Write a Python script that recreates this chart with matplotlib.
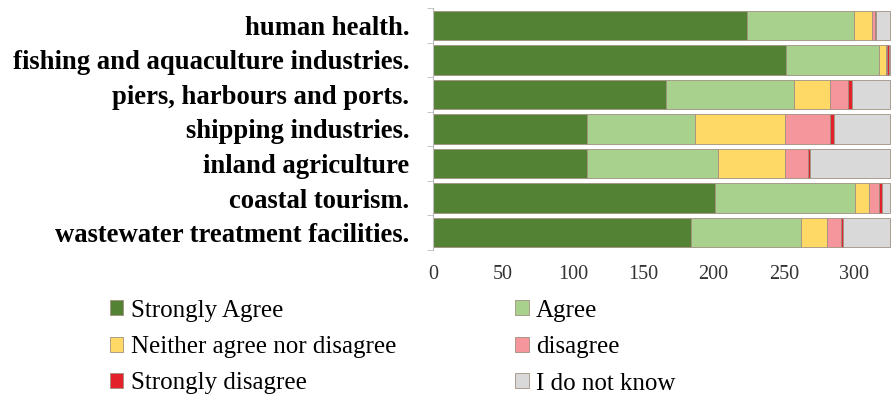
import numpy as np
import matplotlib.pyplot as plt

categories = ['human health.', 'fishing and aquaculture industries.', 'piers, harbours and ports.',
              'shipping industries.', 'inland agriculture', 'coastal tourism.',
              'wastewater treatment facilities.']
strongly_agree = [224, 252, 166, 110, 110, 201, 184]
agree = [76, 66, 91, 77, 93, 100, 78]
neither = [13, 5, 26, 64, 48, 10, 19]
disagree = [2, 1, 13, 32, 16, 7, 10]
strongly_disagree = [1, 1, 3, 3, 2, 2, 1]
dont_know = [10, 1, 27, 40, 57, 6, 34]

series = [('Strongly Agree', strongly_agree, '#548235'),
          ('Agree', agree, '#a9d18e'),
          ('Neither agree nor disagree', neither, '#ffd966'),
          ('disagree', disagree, '#f4969b'),
          ('Strongly disagree', strongly_disagree, '#e3212b'),
          ('I do not know', dont_know, '#d9d9d9')]

plt.rcParams['font.family'] = 'Liberation Serif'

fig = plt.figure(figsize=(8.92, 3.97), dpi=100)
ax = fig.add_axes([433 / 892, 1 - 250 / 397, (891 - 433) / 892, 242 / 397])

y = np.arange(len(categories))
left = np.zeros(len(categories))
handles = {}
for name, vals, color in series:
    vals = np.array(vals, dtype=float)
    b = ax.barh(y, vals, left=left, height=0.85, color=color,
                edgecolor='#a08f80', linewidth=0.6, label=name)
    handles[name] = b
    left += vals

ax.set_ylim(len(categories) - 0.5, -0.5)
ax.set_xlim(0, 326.5)
ax.set_yticks(y)
ax.set_yticklabels(categories, fontsize=19.2, fontweight='bold')
ax.set_xticks([0, 50, 100, 150, 200, 250, 300])
ax.tick_params(axis='x', length=0, labelsize=14.5, pad=11, colors='#333333')
ax.tick_params(axis='y', length=0, pad=17)
ax.set_yticks(np.arange(-0.5, len(categories) + 0.5, 1), minor=True)
ax.tick_params(axis='y', which='minor', length=4, color='#bbbbbb')
for s in ['top', 'right', 'bottom']:
    ax.spines[s].set_visible(False)
ax.spines['left'].set_color('#bbbbbb')

order = ['Strongly Agree', 'Neither agree nor disagree', 'Strongly disagree',
         'Agree', 'disagree', 'I do not know']
leg = fig.legend([handles[n] for n in order], order, ncol=2, loc='upper left',
                 bbox_to_anchor=(87 / 892, 1 - 277 / 397), frameon=False,
                 fontsize=18, handlelength=0.55, handleheight=0.55, handletextpad=0.3,
                 columnspacing=4.75, labelspacing=0.58)

fig.savefig('out.png', dpi=100)
